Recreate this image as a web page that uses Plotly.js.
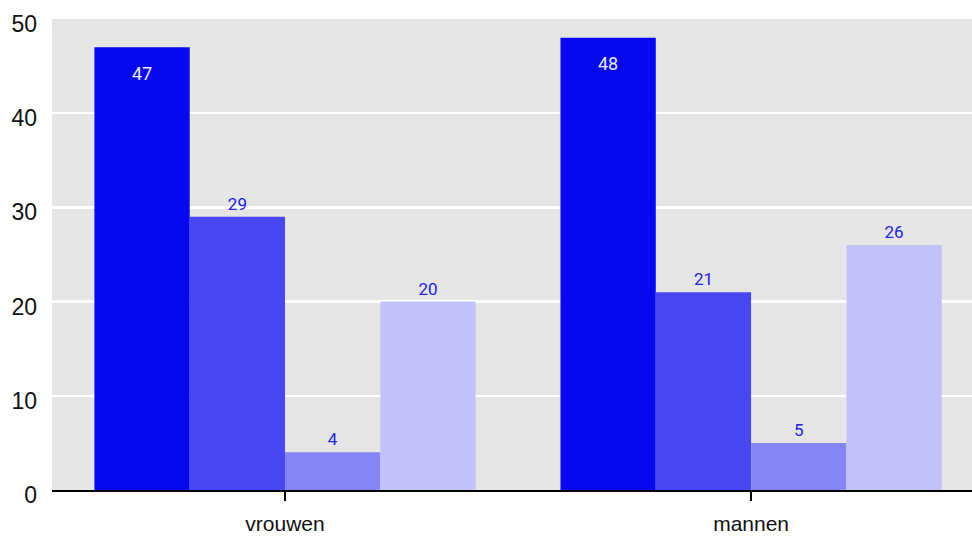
<!DOCTYPE html>
<html><head><meta charset="utf-8">
<script src="https://cdn.plot.ly/plotly-3.0.1.min.js"></script>
<style>body{margin:0;padding:0;background:#fff}#c{width:972px;height:536px}</style>
</head><body><div id="c"></div>
<script>
const categories = ["vrouwen", "mannen"];
const series1 = [47, 48];
const series2 = [29, 21];
const series3 = [4, 5];
const series4 = [20, 26];
const colors = ["#0808EE", "#4848F2", "#8585F5", "#C2C2F9"];
const yTicks = [0, 10, 20, 30, 40, 50];

const axisFont = "Liberation Sans, Arial, sans-serif";
const labelFont = "Roboto, Arial, sans-serif";
const allSeries = [series1, series2, series3, series4];
const bargap = 0.182;
const traces = allSeries.map((s, i) => ({
  type: "bar",
  x: categories,
  y: s,
  marker: {color: colors[i], line: {width: 0}},
  text: i === 0 ? s.map(() => "") : s.map(String),
  textposition: i === 0 ? "none" : "outside",
  textangle: 0,
  cliponaxis: false,
  outsidetextfont: {color: "#2222DD", size: 17, family: labelFont},
  hoverinfo: "none"
}));

// inside labels for the first series, placed through the axes
const plotW = 972 - 52;
const xSpan = 1.474 + 0.5;
const pxPerCat = plotW / xSpan;
const barW = pxPerCat * (1 - bargap) / 4;
const annotations = series1.map((v, j) => ({
  x: categories[j], y: v, xref: "x", yref: "y",
  text: String(v), showarrow: false,
  xshift: -1.5 * barW, yshift: -26,
  font: {color: "#E8E8FF", size: 18, family: labelFont}
}));

Plotly.newPlot("c", traces, {
  width: 972, height: 536,
  margin: {l: 52, r: 0, t: 19, b: 46},
  paper_bgcolor: "#ffffff",
  plot_bgcolor: "#E5E5E5",
  barmode: "group",
  bargap: bargap,
  bargroupgap: 0,
  showlegend: false,
  annotations: annotations,
  font: {family: axisFont, size: 18, color: "#111"},
  xaxis: {
    type: "category",
    range: [-0.5, 1.474],
    showgrid: false,
    showline: true, linecolor: "#000", linewidth: 1.5,
    ticks: "outside", ticklen: 9, tickcolor: "#000", tickwidth: 1.5,
    ticklabelstandoff: 5,
    tickfont: {size: 21, family: axisFont, color: "#111"},
    zeroline: false
  },
  yaxis: {
    range: [0, 50],
    tickvals: yTicks,
    ticktext: yTicks.map(String),
    showgrid: true, gridcolor: "#ffffff", gridwidth: 2.5,
    zeroline: false,
    showline: false,
    ticks: "",
    ticklabelstandoff: 14,
    ticklabelshift: 5,
    tickfont: {size: 23, family: axisFont, color: "#111"}
  }
}, {displayModeBar: false, staticPlot: true});
</script></body></html>
